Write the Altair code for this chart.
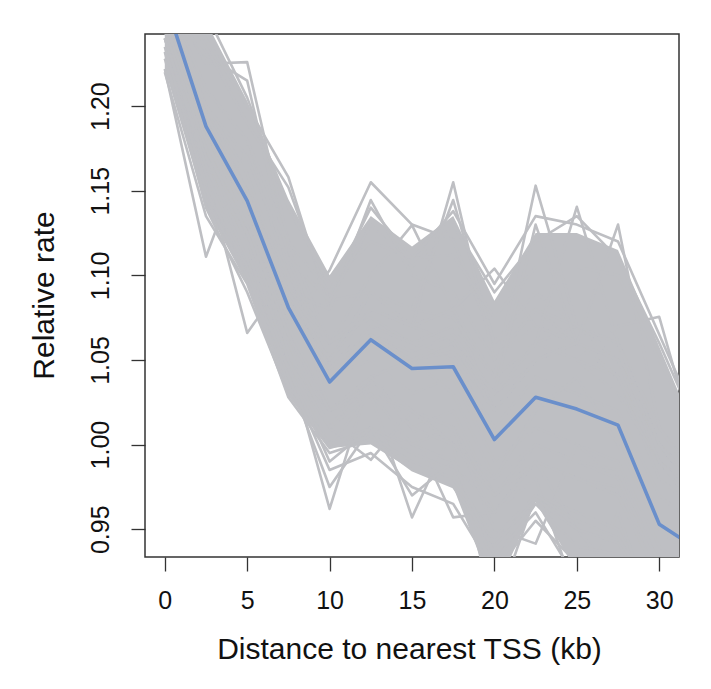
import altair as alt
import pandas as pd

# distance to nearest TSS (kb)
kb = [0, 2.5, 5, 7.5, 10, 12.5, 15, 17.5, 20, 22.5, 25, 27.5, 30, 32.5]

# observed relative rate (blue line)
observed = [1.263, 1.188, 1.144, 1.081, 1.037, 1.062, 1.045, 1.046, 1.003,
            1.028, 1.021, 1.0115, 0.953, 0.937]

# dense core of the gray resampled curves
core_upper = [1.285, 1.250, 1.203, 1.145, 1.100, 1.135, 1.117, 1.135, 1.085,
              1.125, 1.125, 1.115, 1.058, 1.000]
core_lower = [1.222, 1.140, 1.095, 1.030, 0.998, 1.000, 0.985, 0.975, 0.912,
              0.966, 0.925, 0.918, 0.890, 0.870]

# individual resampled curves (gray lines)
g01 = [1.270, 1.225, 1.226, 1.120, 1.060, 1.075, 1.060, 1.050, 1.010, 1.040, 1.030, 1.020, 0.970, 0.950]
g02 = [1.260, 1.230, 1.215, 1.110, 1.050, 1.090, 1.070, 1.080, 1.020, 1.050, 1.060, 1.040, 0.980, 0.960]
g03 = [1.222, 1.111, 1.176, 1.100, 1.040, 1.050, 1.030, 1.040, 0.990, 1.010, 1.000, 0.990, 0.940, 0.920]
g04 = [1.240, 1.160, 1.066, 1.100, 1.020, 1.040, 1.050, 1.030, 0.980, 1.020, 1.040, 1.000, 0.950, 0.930]
g05 = [1.280, 1.240, 1.200, 1.158, 1.080, 1.080, 1.070, 1.060, 1.030, 1.050, 1.050, 1.030, 0.990, 0.960]
g06 = [1.275, 1.235, 1.190, 1.152, 1.085, 1.090, 1.080, 1.075, 1.040, 1.060, 1.070, 1.050, 1.000, 0.970]
g07 = [1.250, 1.170, 1.120, 1.050, 0.962, 1.040, 1.010, 1.020, 0.970, 1.000, 0.990, 0.980, 0.930, 0.910]
g08 = [1.245, 1.160, 1.110, 1.040, 0.975, 1.010, 1.000, 1.010, 0.960, 0.990, 0.980, 0.970, 0.920, 0.900]
g09 = [1.255, 1.180, 1.130, 1.070, 1.103, 1.155, 1.130, 1.121, 1.060, 1.080, 1.070, 1.060, 1.010, 0.980]
g10 = [1.265, 1.200, 1.150, 1.090, 1.080, 1.1445, 1.100, 1.090, 1.050, 1.070, 1.060, 1.050, 1.000, 0.975]
g11 = [1.250, 1.175, 1.125, 1.060, 1.010, 0.991, 1.020, 1.000, 0.980, 1.000, 0.990, 0.985, 0.930, 0.905]
g12 = [1.262, 1.190, 1.150, 1.100, 1.060, 1.100, 1.1297, 1.080, 1.040, 1.060, 1.050, 1.040, 0.990, 0.960]
g13 = [1.248, 1.170, 1.120, 1.050, 1.020, 1.030, 0.957, 1.010, 0.970, 0.990, 0.980, 0.975, 0.920, 0.900]
g14 = [1.258, 1.185, 1.140, 1.080, 1.050, 1.090, 1.070, 1.155, 1.050, 1.080, 1.060, 1.040, 0.990, 0.970]
g15 = [1.270, 1.200, 1.160, 1.090, 1.060, 1.080, 1.080, 1.1445, 1.060, 1.090, 1.070, 1.050, 1.000, 0.975]
g16 = [1.245, 1.170, 1.125, 1.050, 1.010, 1.040, 1.010, 0.957, 0.960, 0.990, 0.980, 0.970, 0.920, 0.895]
g17 = [1.260, 1.195, 1.150, 1.090, 1.050, 1.080, 1.070, 1.080, 1.104, 1.070, 1.060, 1.040, 0.990, 0.965]
g18 = [1.265, 1.190, 1.145, 1.085, 1.045, 1.070, 1.060, 1.070, 1.040, 1.153, 1.070, 1.060, 1.000, 0.970]
g19 = [1.255, 1.185, 1.140, 1.080, 1.040, 1.065, 1.055, 1.065, 1.030, 1.130, 1.060, 1.050, 0.990, 0.965]
g20 = [1.240, 1.170, 1.120, 1.050, 1.000, 1.030, 1.020, 1.010, 0.950, 0.9415, 1.000, 0.980, 0.930, 0.910]
g21 = [1.262, 1.190, 1.150, 1.085, 1.045, 1.070, 1.060, 1.060, 1.030, 1.060, 1.1405, 1.060, 1.000, 0.970]
g22 = [1.258, 1.185, 1.140, 1.080, 1.040, 1.065, 1.050, 1.055, 1.020, 1.050, 1.060, 1.130, 1.010, 0.975]
g23 = [1.260, 1.190, 1.145, 1.085, 1.045, 1.065, 1.050, 1.060, 1.020, 1.050, 1.050, 1.070, 1.0755, 0.990]
g24 = [1.250, 1.180, 1.130, 1.070, 1.020, 1.040, 1.020, 1.000, 0.900, 0.970, 0.960, 0.950, 0.900, 0.880]
g25 = [1.245, 1.175, 1.125, 1.060, 1.010, 1.030, 1.000, 0.990, 0.960, 0.980, 0.910, 0.960, 0.890, 0.870]
g26 = [1.250, 1.180, 1.130, 1.065, 1.020, 1.035, 1.010, 1.000, 0.970, 0.990, 0.950, 0.920, 0.880, 0.860]
g27 = [1.240, 1.165, 1.110, 1.035, 1.000, 1.010, 0.995, 0.985, 0.930, 0.965, 0.940, 0.935, 0.895, 0.870]
g28 = [1.290, 1.255, 1.205, 1.140, 1.095, 1.120, 1.110, 1.112, 1.075, 1.105, 1.105, 1.100, 1.050, 1.000]
g29 = [1.232, 1.140, 1.090, 1.030, 0.998, 1.005, 0.990, 0.980, 0.945, 0.970, 0.955, 0.945, 0.905, 0.880]
g30 = [1.220, 1.135, 1.095, 1.028, 0.995, 1.003, 0.985, 0.975, 0.940, 0.968, 0.950, 0.942, 0.900, 0.878]
g31 = [1.268, 1.210, 1.180, 1.120, 1.090, 1.140, 1.110, 1.138, 1.095, 1.135, 1.130, 1.120, 1.065, 1.010]
g32 = [1.255, 1.200, 1.170, 1.110, 1.085, 1.130, 1.105, 1.130, 1.090, 1.120, 1.135, 1.110, 1.060, 1.005]
g33 = [1.235, 1.150, 1.105, 1.040, 0.985, 0.995, 0.975, 0.965, 0.925, 0.955, 0.930, 0.925, 0.885, 0.865]
g34 = [1.228, 1.145, 1.100, 1.045, 0.990, 1.010, 0.970, 0.990, 0.935, 0.960, 0.920, 0.930, 0.880, 0.860]

gray_lines = [g01, g02, g03, g04, g05, g06, g07, g08, g09, g10, g11, g12, g13, g14, g15,
              g16, g17, g18, g19, g20, g21, g22, g23, g24, g25, g26, g27, g28, g29, g30,
              g31, g32, g33, g34]

x_ticks = [0, 5, 10, 15, 20, 25, 30]
y_ticks = [0.95, 1.00, 1.05, 1.10, 1.15, 1.20]

GRAY = "#BEBFC3"
BLUE = "#6A8FCB"

rows = []
for i, g in enumerate(gray_lines):
    for k, v in zip(kb, g):
        rows.append({"kb": k, "rate": v, "rep": i})
gray_df = pd.DataFrame(rows)
band_df = pd.DataFrame({"kb": kb, "lo": core_lower, "hi": core_upper})
obs_df = pd.DataFrame({"kb": kb, "rate": observed})

xscale = alt.Scale(domain=[-1.2, 31.2], nice=False, zero=False)
yscale = alt.Scale(domain=[0.9336, 1.2426], nice=False, zero=False)

xaxis = alt.Axis(values=x_ticks, title="Distance to nearest TSS (kb)", grid=False,
                 domain=False, tickSize=14, tickWidth=1.3, tickColor="#333333",
                 labelFontSize=25, labelFont="Liberation Sans", labelColor="#111111",
                 labelPadding=17, labelFlush=False, labelOverlap=False,
                 titleFontSize=30, titleFont="Liberation Sans", titleFontWeight="normal",
                 titleColor="#111111", titleX=264, titleY=101, titleBaseline="alphabetic",
                 titleAnchor="middle", titleAlign="center")
yaxis = alt.Axis(values=y_ticks, format=".2f", title="Relative rate", grid=False,
                 domain=False, tickSize=14, tickWidth=1.3, tickColor="#333333",
                 labelFontSize=25, labelFont="Liberation Sans", labelColor="#111111",
                 labelAngle=270, labelAlign="center", labelBaseline="alphabetic",
                 labelPadding=23, labelFlush=False, labelOverlap=False,
                 titleFontSize=30, titleFont="Liberation Sans", titleFontWeight="normal",
                 titleColor="#111111", titleAngle=270, titleX=-92, titleY=261,
                 titleBaseline="alphabetic", titleAlign="center")

band = alt.Chart(band_df).mark_area(color=GRAY, opacity=1, clip=True).encode(
    x=alt.X("kb:Q", scale=xscale, axis=xaxis),
    y=alt.Y("lo:Q", scale=yscale, axis=yaxis),
    y2="hi:Q",
)

lines = alt.Chart(gray_df).mark_line(color=GRAY, strokeWidth=2.6, clip=True,
                                     strokeJoin="round").encode(
    x=alt.X("kb:Q", scale=xscale),
    y=alt.Y("rate:Q", scale=yscale),
    detail="rep:N",
    order="kb:Q",
)

obs = alt.Chart(obs_df).mark_line(color=BLUE, strokeWidth=3.6, clip=True,
                                  strokeJoin="round").encode(
    x=alt.X("kb:Q", scale=xscale),
    y=alt.Y("rate:Q", scale=yscale),
    order="kb:Q",
)

chart = alt.layer(band, lines, obs).properties(
    width=534, height=523,
    autosize=alt.AutoSizeParams(type="none"),
    padding={"left": 137, "top": 26, "right": 20, "bottom": 120},
    background="white",
).configure_view(stroke="#333333", strokeWidth=1.5)

chart.save("out.html", embed_options={"renderer": "svg", "actions": False})
